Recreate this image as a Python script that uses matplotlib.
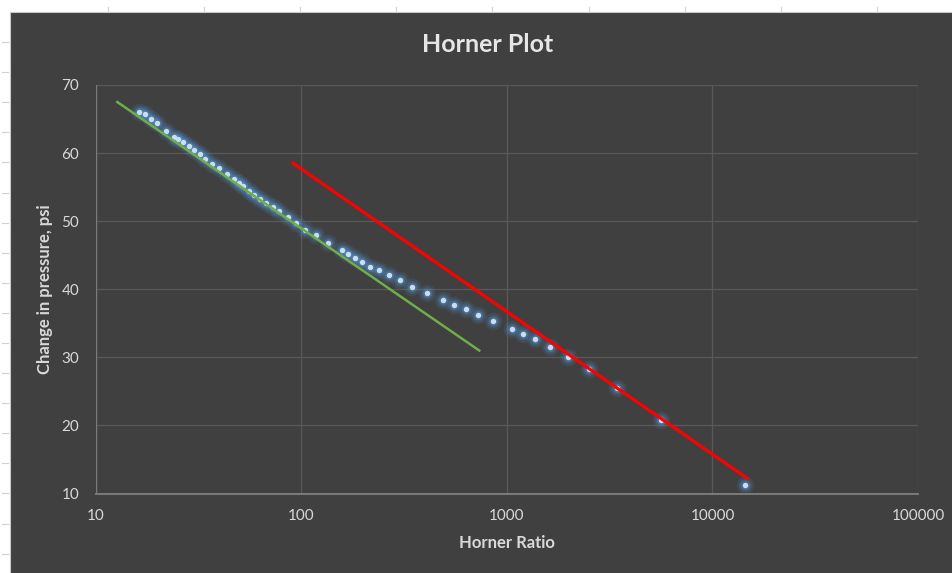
import matplotlib
matplotlib.use("Agg")
import matplotlib.pyplot as plt
from matplotlib.patches import Rectangle
from matplotlib.lines import Line2D
from matplotlib.ticker import FixedLocator, FixedFormatter
import numpy as np

plt.rcParams['font.family'] = ['Lato', 'DejaVu Sans']

# measured points (Horner ratio vs change in pressure)
horner_ratio = [16.2, 17.3, 18.5, 19.9, 22.0, 24.0, 25.2, 26.5, 28.4, 29.9,
                31.9, 34.1, 36.6, 39.6, 43.2, 47.0, 49.4, 52.2, 55.8, 58.7,
                62.8, 67.1, 72.9, 78.0, 85.5, 94.3, 104, 118, 134, 158,
                169, 182, 197, 215, 237, 267, 301, 343, 406, 487,
                551, 630, 719, 851, 1062, 1191, 1363, 1613, 1973, 2499,
                3447, 5623, 14430]
delta_p = [66.1, 65.7, 65.0, 64.4, 63.25, 62.4, 62.0, 61.6, 61.0, 60.45,
           59.8, 59.1, 58.4, 57.8, 56.9, 56.15, 55.65, 55.1, 54.5, 53.8,
           53.2, 52.7, 52.1, 51.45, 50.6, 49.8, 48.7, 47.9, 46.75, 45.7,
           45.2, 44.55, 44.05, 43.2, 42.8, 42.1, 41.3, 40.3, 39.5, 38.4,
           37.7, 37.1, 36.15, 35.3, 34.2, 33.5, 32.65, 31.5, 30.0, 28.25,
           25.5, 20.8, 11.3]

# straight-line fits drawn on the plot
early_x = [12.7, 733]
early_y = [67.5, 31.0]
late_x = [91, 14800]
late_y = [58.5, 12.2]

x_ticks = [10, 100, 1000, 10000, 100000]
x_tick_labels = ['10', '100', '1000', '10000', '100000']
y_ticks = [10, 20, 30, 40, 50, 60, 70]

bg = '#404040'
txt = '#D9D9D9'
grid = '#595959'

W, H = 953, 573
fig = plt.figure(figsize=(W / 100, H / 100), dpi=100)
fig.patch.set_facecolor('white')

# dark chart area (spreadsheet margin left white at top/left)
fig.patches.append(Rectangle((10 / W, 0), 1, (H - 12) / H, transform=fig.transFigure,
                             facecolor=bg, edgecolor='none', zorder=-5))
fig.lines.append(Line2D([10 / W, 1], [(H - 12) / H] * 2, transform=fig.transFigure,
                        color='#C8C8C8', lw=0.8, zorder=-4))
fig.lines.append(Line2D([10 / W] * 2, [0, (H - 12) / H], transform=fig.transFigure,
                        color='#C8C8C8', lw=0.8, zorder=-4))
for px in np.arange(108, W, 96.1):
    fig.lines.append(Line2D([px / W] * 2, [(H - 12) / H, (H - 7) / H], transform=fig.transFigure,
                            color='#D0D0D0', lw=0.8, zorder=-4))
for py in np.arange(42, H, 30.1):
    fig.lines.append(Line2D([2 / W, 8 / W], [1 - py / H] * 2, transform=fig.transFigure,
                            color='#D0D0D0', lw=0.8, zorder=-4))

ax = fig.add_axes([96 / W, 1 - 493.5 / H, (918 - 96) / W, (493.5 - 85) / H])
ax.set_facecolor(bg)
ax.set_xscale('log')
ax.set_xlim(10, 100000)
ax.set_ylim(10, 70)
ax.xaxis.set_major_locator(FixedLocator(x_ticks))
ax.xaxis.set_major_formatter(FixedFormatter(x_tick_labels))
ax.xaxis.set_minor_locator(FixedLocator([]))
ax.set_yticks(y_ticks)
ax.grid(True, color=grid, lw=0.9)
ax.set_axisbelow(True)
for s in ['top', 'right', 'left']:
    ax.spines[s].set_visible(False)
ax.spines['bottom'].set_color('#808080')
ax.spines['bottom'].set_linewidth(1.3)
ax.axvline(10, color='#7A7A7A', lw=1.0, zorder=1)
ax.tick_params(axis='both', length=0, colors=txt, labelsize=11)
ax.tick_params(axis='y', pad=12)
ax.tick_params(axis='x', pad=11)

# markers with a soft blue glow
ax.scatter(horner_ratio, delta_p, s=160, color='#4F8FD0', alpha=0.14, lw=0, zorder=3)
ax.scatter(horner_ratio, delta_p, s=85, color='#4F8FD0', alpha=0.22, lw=0, zorder=3)
ax.scatter(horner_ratio, delta_p, s=40, color='#5B9BD5', alpha=0.35, lw=0, zorder=3)
ax.scatter(horner_ratio, delta_p, s=15, color='#C9DEF2', lw=0, zorder=4)

ax.plot(early_x, early_y, color='#70AD47', lw=1.8, zorder=5)
ax.plot(late_x, late_y, color='#FF0000', lw=2.3, zorder=5)

fig.text(488 / W, 1 - 44 / H, 'Horner Plot', ha='center', va='center',
         color='#E6E6E6', fontsize=18, fontweight='bold')
fig.text(507 / W, 1 - 543 / H, 'Horner Ratio', ha='center', va='center',
         color=txt, fontsize=12, fontweight='bold')
fig.text(45 / W, 1 - 289 / H, 'Change in pressure, psi', ha='center', va='center',
         rotation=90, color=txt, fontsize=12, fontweight='bold')

fig.savefig('out.png', dpi=100, facecolor=fig.get_facecolor())
